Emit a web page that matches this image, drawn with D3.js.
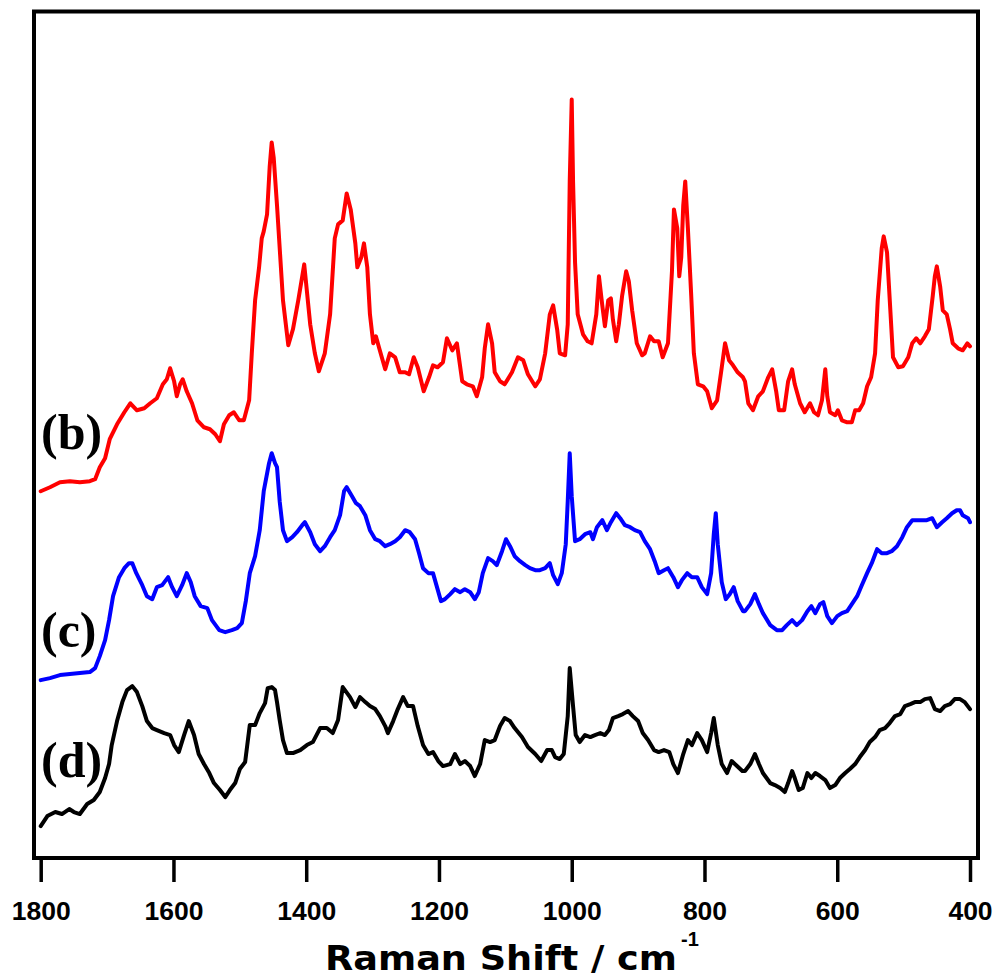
<!DOCTYPE html>
<html>
<head>
<meta charset="utf-8">
<script src="https://cdn.jsdelivr.net/npm/d3@7"></script>
<style>
  html, body { margin: 0; padding: 0; background: #fff; }
  svg { display: block; }
</style>
</head>
<body>
<svg id="chart" width="1001" height="978"></svg>
<script>
// Raman spectra, offset for display: [Raman shift (cm^-1), intensity (a.u.)]
const spectrumB = [
  [1800,367],[1786,371],[1771,376],[1756,377],[1741,376],[1726,377],[1718,379],[1711,391],[1703,400],
  [1696,419],[1685,434],[1674,446],[1665,455],[1655,448],[1644,450],[1635,455],[1625,460],[1616,474],
  [1610,479],[1605,490],[1599,477],[1595,462],[1590,474],[1586,479],[1580,467],[1572,455],[1564,438],
  [1554,431],[1545,429],[1537,424],[1530,417],[1524,434],[1516,443],[1509,446],[1501,438],[1494,438],
  [1486,458],[1482,505],[1477,558],[1471,591],[1467,620],[1464,627],[1459,644],[1455,692],[1452,716],
  [1449,701],[1444,653],[1435,558],[1427,513],[1420,529],[1412,558],[1403,594],[1394,534],[1387,505],
  [1381,487],[1372,505],[1364,544],[1357,620],[1352,634],[1345,638],[1339,665],[1333,649],[1326,615],
  [1323,591],[1317,601],[1313,615],[1308,591],[1304,544],[1299,515],[1295,522],[1290,510],[1281,489],
  [1274,505],[1266,501],[1259,486],[1251,486],[1245,484],[1238,501],[1232,491],[1223,467],[1215,481],
  [1209,493],[1202,491],[1194,496],[1188,520],[1180,508],[1173,515],[1165,477],[1158,474],[1149,472],
  [1143,462],[1135,481],[1131,510],[1126,534],[1120,515],[1116,486],[1108,477],[1101,474],[1090,486],
  [1081,501],[1073,498],[1066,484],[1055,472],[1048,479],[1040,505],[1033,544],[1028,553],[1022,529],
  [1018,505],[1010,503],[1006,534],[1003,677],[1000,759],[998,677],[995,596],[991,544],[983,524],
  [976,517],[970,515],[963,544],[959,582],[954,553],[950,532],[945,558],[941,560],[938,539],[933,517],
  [929,534],[924,563],[918,587],[914,577],[909,548],[902,515],[894,503],[890,505],[882,522],[876,517],
  [869,517],[863,501],[855,515],[849,587],[846,649],[841,630],[838,582],[835,601],[832,653],[829,677],
  [825,630],[820,563],[816,505],[810,474],[802,472],[796,467],[789,450],[781,458],[775,486],[769,515],
  [763,498],[757,493],[750,486],[742,481],[739,477],[734,455],[727,448],[719,462],[712,467],[704,481],
  [698,489],[692,467],[688,448],[680,448],[674,477],[668,489],[664,474],[656,455],[649,446],[641,455],
  [635,446],[629,443],[623,458],[618,489],[615,462],[611,446],[603,443],[599,448],[593,438],[585,436],
  [578,436],[573,448],[567,448],[561,455],[555,472],[549,481],[543,505],[539,558],[533,610],[530,622],
  [525,606],[520,548],[516,501],[508,491],[501,492],[493,501],[487,515],[481,520],[475,515],[468,522],
  [462,529],[456,563],[453,582],[450,592],[445,572],[441,548],[435,544],[430,529],[426,515],[418,510],
  [411,508],[404,515],[400,512]
];

const spectrumC = [
  [1800,178],[1786,180],[1771,183],[1756,184],[1741,185],[1726,186],[1718,190],[1711,202],[1703,218],
  [1697,238],[1691,262],[1682,281],[1674,290],[1667,295],[1662,295],[1656,285],[1647,273],[1640,262],
  [1632,259],[1625,271],[1617,273],[1608,281],[1602,271],[1595,262],[1587,273],[1580,285],[1574,276],
  [1568,262],[1559,252],[1549,250],[1542,238],[1531,228],[1522,226],[1512,228],[1504,230],[1497,235],
  [1491,257],[1485,285],[1477,302],[1470,328],[1464,367],[1456,395],[1452,405],[1447,395],[1444,391],
  [1440,357],[1435,328],[1429,317],[1421,321],[1414,326],[1406,333],[1402,336],[1394,326],[1387,314],
  [1379,307],[1372,312],[1364,321],[1357,328],[1349,343],[1343,367],[1339,371],[1331,362],[1325,355],
  [1319,352],[1311,343],[1304,328],[1296,319],[1289,317],[1281,312],[1274,314],[1266,317],[1259,321],
  [1251,328],[1244,326],[1236,319],[1230,305],[1224,290],[1216,285],[1209,285],[1203,271],[1197,257],
  [1191,259],[1183,264],[1176,269],[1168,266],[1161,269],[1153,266],[1146,259],[1140,266],[1134,285],
  [1126,300],[1119,297],[1113,293],[1105,307],[1099,319],[1093,312],[1086,302],[1078,297],[1070,293],
  [1063,290],[1055,288],[1048,288],[1040,290],[1033,295],[1028,283],[1021,274],[1015,285],[1009,314],
  [1006,357],[1003,405],[1000,362],[995,317],[988,319],[980,324],[972,326],[968,319],[962,331],[954,338],
  [947,328],[941,336],[933,345],[927,340],[920,333],[912,331],[905,328],[897,326],[890,317],[882,309],
  [875,297],[869,285],[861,288],[855,290],[847,281],[840,271],[834,278],[826,285],[819,281],[811,281],
  [804,271],[796,264],[790,285],[786,324],[783,345],[780,314],[774,276],[768,259],[762,264],[756,271],
  [750,257],[742,247],[739,247],[731,254],[724,264],[718,254],[712,245],[701,233],[691,228],[683,228],
  [676,233],[668,238],[661,233],[653,238],[645,247],[639,252],[633,245],[626,254],[621,256],[615,242],
  [608,235],[600,242],[593,245],[585,247],[578,254],[570,262],[563,273],[555,285],[548,295],[540,309],
  [533,305],[525,305],[518,307],[510,312],[502,321],[495,331],[487,338],[480,338],[472,338],[465,338],
  [457,340],[450,331],[442,336],[435,340],[427,345],[420,348],[415,348],[411,343],[403,340],[400,336]
];

const spectrumD = [
  [1800,32],[1790,42],[1778,46],[1768,44],[1757,49],[1750,46],[1741,44],[1730,54],[1720,58],[1711,66],
  [1703,80],[1697,94],[1693,113],[1685,137],[1677,156],[1670,168],[1662,172],[1655,166],[1647,152],
  [1640,137],[1632,130],[1625,128],[1614,125],[1605,123],[1599,113],[1592,106],[1584,123],[1577,137],
  [1569,123],[1562,104],[1554,94],[1546,85],[1539,75],[1530,68],[1522,61],[1515,68],[1507,75],[1500,89],
  [1492,96],[1485,133],[1477,133],[1470,145],[1462,155],[1458,170],[1452,171],[1447,168],[1444,156],
  [1440,138],[1435,118],[1429,105],[1420,105],[1409,108],[1399,113],[1390,116],[1379,130],[1369,130],
  [1360,125],[1352,138],[1345,171],[1334,161],[1326,151],[1319,161],[1311,156],[1304,152],[1296,149],
  [1289,142],[1281,132],[1277,125],[1269,137],[1262,149],[1254,161],[1247,152],[1239,152],[1232,132],
  [1224,113],[1216,104],[1209,106],[1201,97],[1194,92],[1183,94],[1176,104],[1168,94],[1161,97],
  [1153,92],[1146,82],[1138,94],[1131,118],[1123,116],[1116,118],[1108,132],[1101,140],[1093,137],
  [1086,130],[1075,121],[1066,111],[1055,104],[1046,97],[1037,108],[1030,108],[1025,101],[1018,99],
  [1012,104],[1006,142],[1003,190],[998,152],[994,123],[988,116],[980,123],[972,121],[965,123],[957,125],
  [950,123],[944,128],[938,140],[930,142],[923,144],[915,147],[908,142],[900,137],[893,125],[885,118],
  [876,108],[869,106],[861,108],[853,106],[847,94],[840,85],[832,104],[825,118],[819,113],[811,125],
  [804,118],[796,106],[790,125],[786,140],[780,113],[774,94],[766,85],[759,97],[751,92],[743,87],
  [739,87],[731,94],[724,104],[718,94],[712,85],[701,75],[694,73],[686,70],[679,66],[674,75],[668,87],
  [664,80],[658,68],[652,70],[645,85],[639,80],[633,85],[626,82],[618,78],[611,70],[603,73],[596,80],
  [588,85],[581,89],[573,94],[566,101],[558,108],[551,116],[543,121],[536,128],[528,130],[521,135],
  [513,142],[505,144],[498,152],[490,154],[483,156],[475,156],[468,159],[460,160],[453,149],[445,147],
  [438,152],[430,154],[423,159],[415,159],[408,156],[400,149]
];

const seriesColors = ["#ff0000", "#0000ff", "#000000"];
const seriesLabels = ["(b)", "(c)", "(d)"];
const labelBaselines = [449, 647, 777];
const shiftTicks = [1800, 1600, 1400, 1200, 1000, 800, 600, 400];
const axisTitle = "Raman Shift / cm";
const axisTitleSup = "-1";

const svg = d3.select("#chart");
svg.append("rect").attr("width", 1001).attr("height", 978).attr("fill", "#fff");

// plot frame and scales
const frame = { left: 34, right: 978, top: 11.5, bottom: 858 };
const x = d3.scaleLinear().domain([1800, 400]).range([40.7, 970]);
const y = d3.scaleLinear().domain([0, 847]).range([frame.bottom, frame.top]);

const line = d3.line()
  .x(d => x(d[0]))
  .y(d => y(d[1]));

[spectrumB, spectrumC, spectrumD].forEach((data, i) => {
  svg.append("path")
    .datum(data)
    .attr("d", line)
    .attr("fill", "none")
    .attr("stroke", seriesColors[i])
    .attr("stroke-width", 4)
    .attr("stroke-linejoin", "round")
    .attr("stroke-linecap", "round");
});

// trace labels
seriesLabels.forEach((t, i) => {
  svg.append("text")
    .attr("x", 41)
    .attr("y", labelBaselines[i])
    .attr("font-family", "'Liberation Serif', 'Times New Roman', serif")
    .attr("font-weight", "bold")
    .attr("font-size", 50)
    .attr("fill", "#000")
    .text(t);
});

svg.append("rect")
  .attr("x", frame.left)
  .attr("y", frame.top)
  .attr("width", frame.right - frame.left)
  .attr("height", frame.bottom - frame.top)
  .attr("fill", "none")
  .attr("stroke", "#000")
  .attr("stroke-width", 4);

// bottom axis
const axis = svg.append("g")
  .attr("transform", `translate(0,${frame.bottom + 2})`)
  .call(d3.axisBottom(x).tickValues(shiftTicks).tickSize(22).tickSizeOuter(0).tickFormat(d3.format("d")));
axis.select(".domain").remove();
axis.selectAll(".tick line").attr("stroke", "#000").attr("stroke-width", 3.5);
axis.selectAll(".tick text")
  .attr("y", 60)
  .attr("dy", 0)
  .attr("fill", "#000")
  .attr("font-family", "'Liberation Sans', Arial, sans-serif")
  .attr("font-weight", "bold")
  .attr("font-size", 26.5);

// axis title with superscript
svg.append("text")
  .attr("x", 325)
  .attr("y", 970)
  .attr("font-family", "'DejaVu Sans', sans-serif")
  .attr("font-weight", "bold")
  .attr("font-size", 33)
  .attr("textLength", 352)
  .attr("lengthAdjust", "spacingAndGlyphs")
  .attr("fill", "#000")
  .text(axisTitle);
svg.append("text")
  .attr("x", 681)
  .attr("y", 946)
  .attr("font-family", "'Liberation Sans', Arial, sans-serif")
  .attr("font-weight", "bold")
  .attr("font-size", 20)
  .attr("fill", "#000")
  .text(axisTitleSup);
</script>
</body>
</html>
